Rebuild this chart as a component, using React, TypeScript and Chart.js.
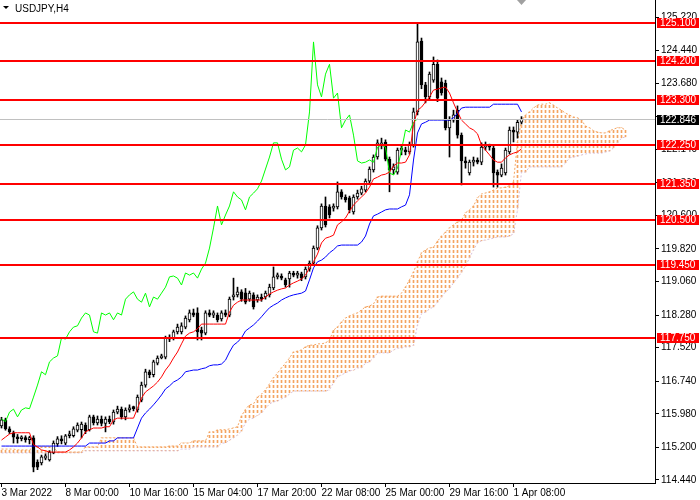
import { useEffect, useRef } from "react";
import { Chart, registerables } from "chart.js";

Chart.register(...registerables);

const symbolTitle = "USDJPY,H4";

const opens = [
  115.70,115.84,115.63,115.54,115.44,115.40,115.42,115.38,115.42,114.86,
  114.84,114.95,114.91,115.07,115.28,115.40,115.30,115.47,115.47,115.60,
  115.61,115.72,115.61,115.91,115.77,115.86,115.76,115.86,115.79,116.02,
  116.09,115.91,116.07,116.12,116.07,116.30,116.65,116.96,116.89,117.16,
  117.28,117.30,117.75,117.75,117.89,117.89,118.00,118.17,118.33,118.33,
  117.93,117.86,118.33,118.28,118.28,118.19,118.33,118.28,118.70,118.75,
  118.82,118.80,118.65,118.75,118.63,118.70,118.70,118.75,118.91,119.17,
  119.19,119.10,119.12,119.26,119.21,119.24,119.17,119.35,119.49,119.84,
  120.31,120.82,120.80,120.77,120.80,121.15,121.03,121.01,120.68,121.03,
  121.12,121.19,121.40,121.66,121.96,122.22,122.31,121.91,121.66,121.61,
  122.12,122.12,122.08,122.24,123.01,124.66,123.64,123.36,123.75,124.12,
  123.71,123.68,122.64,122.82,123.05,122.47,121.87,121.59,121.84,121.89,
  121.84,122.19,122.24,122.17,121.61,121.54,121.59,122.08,122.59,122.54,
  122.77,
];
const highs = [
  115.90,115.88,115.68,115.58,115.50,115.47,115.47,115.46,115.47,114.91,
  115.02,115.05,115.12,115.35,115.45,115.47,115.50,115.58,115.68,115.77,
  115.79,115.77,115.95,115.95,115.93,115.93,115.91,115.93,116.07,116.16,
  116.14,116.12,116.19,116.16,116.42,116.72,117.02,117.00,117.23,117.33,
  117.37,117.79,117.82,117.93,118.07,118.10,118.26,118.40,118.42,118.45,
  118.00,118.38,118.40,118.38,118.33,118.38,118.40,118.70,119.14,118.93,
  118.87,118.90,118.84,118.80,118.75,118.77,118.84,119.00,119.40,119.26,
  119.24,119.14,119.30,119.30,119.30,119.28,119.40,119.54,119.89,120.36,
  120.87,121.03,120.85,120.87,121.38,121.20,121.08,121.05,121.08,121.19,
  121.28,121.45,121.73,122.01,122.36,122.40,122.36,121.96,121.80,122.17,
  122.24,122.19,122.31,123.10,125.08,124.73,123.70,123.94,124.29,124.22,
  123.80,123.75,122.90,123.05,123.15,122.52,121.96,121.89,121.96,121.94,
  122.29,122.31,122.26,122.24,121.66,121.80,122.17,122.66,122.66,122.82,
  122.90,
];
const lows = [
  115.65,115.60,115.52,115.30,115.30,115.35,115.32,115.28,114.63,114.68,
  114.79,114.91,114.88,115.05,115.22,115.28,115.26,115.42,115.44,115.56,
  115.42,115.52,115.58,115.72,115.72,115.70,115.56,115.75,115.74,115.98,
  115.86,115.84,116.02,116.05,116.02,116.26,116.60,116.82,116.84,117.12,
  117.26,117.26,117.66,117.70,117.84,117.84,117.96,118.12,118.24,117.70,
  117.70,117.82,118.24,118.22,118.12,118.14,118.24,118.24,118.63,118.70,
  118.60,118.54,118.60,118.42,118.58,118.60,118.65,118.70,118.87,119.12,
  119.10,118.93,118.93,119.17,119.14,119.08,119.12,119.30,119.45,119.80,
  120.26,120.33,120.54,120.70,120.75,120.98,120.91,120.66,120.63,120.98,
  121.08,121.15,121.35,121.61,121.91,122.15,121.87,121.15,121.56,121.56,
  122.01,122.01,122.03,122.19,122.94,123.55,123.22,123.30,123.70,123.25,
  123.40,122.59,121.96,122.77,122.40,121.31,121.70,121.54,121.75,121.80,
  121.78,122.12,122.12,121.26,121.26,121.50,121.54,122.03,122.31,122.40,
  122.73,
];
const closes = [
  115.84,115.63,115.56,115.44,115.40,115.42,115.38,115.40,114.74,114.74,
  114.98,115.00,115.09,115.30,115.40,115.35,115.47,115.50,115.63,115.72,
  115.74,115.58,115.91,115.77,115.86,115.76,115.86,115.80,116.02,116.09,
  115.91,116.07,116.12,116.10,116.37,116.65,116.96,116.89,117.19,117.28,
  117.33,117.75,117.72,117.89,118.00,118.03,118.21,118.33,118.28,117.89,
  117.86,118.33,118.28,118.33,118.17,118.33,118.28,118.65,118.75,118.82,
  118.65,118.58,118.79,118.47,118.70,118.65,118.79,118.93,119.17,119.19,
  119.14,118.98,119.26,119.21,119.26,119.14,119.35,119.49,119.84,120.31,
  120.82,120.38,120.61,120.82,121.15,121.03,120.96,120.73,121.03,121.12,
  121.22,121.40,121.68,121.96,122.29,122.29,121.91,121.66,121.73,122.12,
  122.17,122.08,122.24,123.01,124.64,123.64,123.36,123.89,124.12,123.33,
  123.45,122.64,122.82,122.94,122.47,121.87,121.82,121.84,121.89,121.84,
  122.19,122.24,122.19,121.59,121.54,121.70,122.12,122.59,122.54,122.77,
  122.846,
];

const tenkan = [
  115.37,115.44,115.51,115.54,115.54,115.54,115.54,115.54,115.26,115.21,
  115.14,115.12,115.09,115.09,115.09,115.09,115.09,115.14,115.21,115.30,
  115.42,115.56,115.61,115.65,115.65,115.65,115.68,115.68,115.84,115.88,
  115.88,115.88,115.88,115.88,116.11,116.35,116.49,116.56,116.63,116.72,
  116.84,117.00,117.12,117.28,117.42,117.61,117.79,117.86,117.89,117.96,
  118.07,118.07,118.07,118.07,118.07,118.07,118.07,118.35,118.51,118.58,
  118.63,118.63,118.63,118.63,118.63,118.63,118.70,118.77,118.82,118.86,
  118.89,118.91,118.98,119.03,119.07,119.12,119.21,119.38,119.52,119.70,
  119.96,120.07,120.10,120.14,120.38,120.45,120.54,120.70,120.84,120.94,
  121.03,121.12,121.26,121.45,121.49,121.54,121.56,121.61,121.75,121.82,
  121.82,121.84,122.01,122.71,123.05,123.12,123.24,123.36,123.52,123.54,
  123.57,123.59,123.45,123.22,123.01,122.82,122.73,122.64,122.59,122.50,
  122.24,122.12,122.01,121.89,121.84,121.84,121.94,122.01,122.05,122.08,
  122.15,
];
const kijun = [
  115.23,115.23,115.23,115.23,115.23,115.23,115.23,115.23,115.23,115.23,
  115.23,115.23,115.23,115.23,115.23,115.23,115.23,115.23,115.23,115.23,
  115.23,115.23,115.30,115.30,115.30,115.30,115.30,115.35,115.35,115.42,
  115.42,115.42,115.42,115.42,115.65,115.88,116.00,116.09,116.19,116.30,
  116.42,116.56,116.63,116.72,116.77,116.84,116.96,116.98,117.00,117.00,
  117.03,117.05,117.10,117.12,117.12,117.14,117.23,117.42,117.58,117.65,
  117.75,117.91,117.98,118.05,118.14,118.24,118.35,118.45,118.51,118.56,
  118.63,118.68,118.72,118.75,118.77,118.79,118.84,119.10,119.38,119.52,
  119.56,119.63,119.73,119.80,119.89,119.91,119.91,119.91,119.91,119.91,
  119.98,120.12,120.40,120.59,120.63,120.68,120.73,120.75,120.75,120.75,
  120.80,120.84,121.08,121.89,122.52,122.73,122.77,122.82,122.82,122.82,
  122.82,122.82,122.82,122.87,122.98,123.10,123.12,123.12,123.12,123.12,
  123.12,123.12,123.12,123.19,123.19,123.19,123.19,123.19,123.19,123.19,
  123.01,
];
const spanA = [
  115.16,115.16,115.16,115.16,115.14,115.14,115.14,115.14,115.21,115.21,
  115.21,115.21,115.21,115.21,115.09,115.09,115.09,115.09,115.09,115.09,
  115.09,115.21,115.21,115.21,115.21,115.42,115.42,115.42,115.42,115.42,
  115.42,115.42,115.42,115.42,115.21,115.21,115.21,115.21,115.21,115.21,
  115.21,115.21,115.23,115.23,115.23,115.30,115.30,115.30,115.35,115.35,
  115.35,115.35,115.56,115.56,115.61,115.61,115.61,115.63,115.65,115.68,
  115.93,116.09,116.19,116.21,116.37,116.44,116.54,116.68,116.82,116.93,
  117.05,117.16,117.28,117.42,117.44,117.47,117.54,117.58,117.58,117.61,
  117.61,117.63,117.70,117.93,118.00,118.12,118.21,118.26,118.30,118.33,
  118.40,118.47,118.49,118.54,118.70,118.72,118.72,118.72,118.72,118.72,
  118.79,118.93,119.10,119.28,119.52,119.73,119.80,119.84,119.86,120.00,
  120.12,120.21,120.31,120.38,120.45,120.49,120.66,120.73,120.82,121.01,
  121.10,121.12,121.15,121.19,121.24,121.24,121.26,121.29,121.38,122.31,
  122.80,122.94,123.01,123.10,123.17,123.19,123.19,123.22,123.17,123.10,
  123.05,122.98,122.94,122.89,122.87,122.82,122.68,122.64,122.57,122.54,
  122.52,122.52,122.57,122.61,122.64,122.64,122.59,
];
const spanB = [
  115.07,115.07,115.07,115.07,115.07,115.07,115.07,115.07,115.07,115.07,
  115.07,115.07,115.07,115.07,115.07,115.07,115.07,115.07,115.07,115.07,
  115.07,115.12,115.12,115.12,115.12,115.12,115.12,115.12,115.12,115.12,
  115.12,115.12,115.12,115.12,115.12,115.12,115.12,115.12,115.12,115.12,
  115.12,115.12,115.12,115.12,115.12,115.16,115.16,115.16,115.21,115.21,
  115.21,115.21,115.21,115.21,115.21,115.30,115.30,115.37,115.42,115.49,
  115.58,115.77,115.86,115.88,115.95,116.00,116.11,116.21,116.26,116.28,
  116.33,116.37,116.44,116.51,116.51,116.51,116.51,116.51,116.51,116.51,
  116.51,116.51,116.54,116.70,116.84,116.89,116.93,116.98,117.00,117.05,
  117.05,117.16,117.19,117.28,117.40,117.40,117.40,117.40,117.47,117.51,
  117.51,117.54,117.54,117.58,118.05,118.31,118.35,118.42,118.47,118.58,
  118.70,118.82,118.89,119.03,119.14,119.28,119.42,119.61,119.80,119.96,
  120.01,120.03,120.05,120.07,120.10,120.10,120.10,120.12,120.17,120.73,
  121.61,121.61,121.73,121.73,121.73,121.73,121.73,121.73,121.73,121.73,
  121.73,121.82,121.94,121.96,121.98,122.01,122.03,122.05,122.05,122.05,
  122.05,122.08,122.10,122.17,122.29,122.40,122.43,
];
const chikouShift = 26;

const levels = [125.1, 124.2, 123.3, 122.25, 121.35, 120.5, 119.45, 117.75];
const lastPrice = 122.846;

const yTicks = [
  114.44, 115.2, 115.98, 116.74, 117.52, 118.28, 119.06, 119.82,
  120.6, 121.36, 122.14, 122.9, 123.68, 124.44, 125.22,
];
const xTickIndex = [0, 16, 32, 48, 64, 80, 96, 112, 128];
const xTickLabels = [
  "3 Mar 2022", "8 Mar 00:00", "10 Mar 16:00", "15 Mar 04:00", "17 Mar 20:00",
  "22 Mar 08:00", "25 Mar 00:00", "29 Mar 16:00", "1 Apr 08:00",
];

const FONT = "'Liberation Sans', Arial, sans-serif";
const FONT_SIZE = 10;

function hatch(color: string): CanvasPattern {
  const c = document.createElement("canvas");
  c.width = 1;
  c.height = 5;
  const g = c.getContext("2d")!;
  g.fillStyle = color;
  g.fillRect(0, 0, 1, 3);
  return g.createPattern(c, "repeat")!;
}

export default function App() {
  const ref = useRef<HTMLCanvasElement>(null);

  useEffect(() => {
    document.body.style.margin = "0";
    const canvas = ref.current!;
    const up = hatch("#F4A460");
    const down = hatch("#D8BFD8");

    const bodies = closes.map((c, i) => ({ x: i, y: [opens[i], c] }));
    const wicks = closes.map((_c, i) => ({ x: i, y: [lows[i], highs[i]] }));
    const bodyColors = closes.map((c, i) => (c > opens[i] ? "#FFFFFF" : "#000000"));
    const cloud = spanA.map((a, i) => ({ x: i, y: [a, spanB[i]] }));
    const cloudColors = spanA.map((a, i) => (a >= spanB[i] ? up : down));
    const pts = (arr: number[]) => arr.map((v, i) => ({ x: i, y: v }));
    const chikou = closes.slice(chikouShift).map((v, i) => ({ x: i, y: v }));

    const lineBase = {
      type: "line" as const,
      borderWidth: 1,
      pointRadius: 0,
      tension: 0,
      fill: false,
    };

    const overlay = {
      id: "overlay",
      afterDatasetsDraw(chart: any) {
        const { ctx, chartArea, scales } = chart;
        const y = scales.y;
        ctx.save();
        const py = Math.round(y.getPixelForValue(lastPrice)) + 0.5;
        ctx.strokeStyle = "#C0C0C0";
        ctx.lineWidth = 1;
        ctx.beginPath();
        ctx.moveTo(chartArea.left, py);
        ctx.lineTo(chartArea.right, py);
        ctx.stroke();
        ctx.strokeStyle = "#FF0000";
        ctx.lineWidth = 2;
        levels.forEach((v) => {
          const yy = Math.floor(y.getPixelForValue(v)) + 1;
          ctx.beginPath();
          ctx.moveTo(chartArea.left, yy);
          ctx.lineTo(chartArea.right, yy);
          ctx.stroke();
        });
        ctx.restore();
      },
      afterDraw(chart: any) {
        const { ctx, chartArea, scales } = chart;
        const y = scales.y;
        ctx.save();
        ctx.font = `${FONT_SIZE}px ${FONT}`;
        ctx.textAlign = "left";
        ctx.textBaseline = "middle";
        const bx = chartArea.right + 2;
        const bw = 42;
        levels.forEach((v) => {
          const yy = Math.floor(y.getPixelForValue(v));
          ctx.fillStyle = "#FF0000";
          ctx.fillRect(bx, yy - 4, bw, 10);
          ctx.fillStyle = "#FFFFFF";
          ctx.fillText(v.toFixed(3), chartArea.right + 5, yy + 1.5);
        });
        const py = Math.round(y.getPixelForValue(lastPrice));
        ctx.fillStyle = "#000000";
        ctx.fillRect(bx, py - 4, bw, 10);
        ctx.fillStyle = "#FFFFFF";
        ctx.fillText(lastPrice.toFixed(3), chartArea.right + 5, py + 1.5);

        // title
        ctx.fillStyle = "#000000";
        ctx.beginPath();
        ctx.moveTo(3, 6);
        ctx.lineTo(9, 6);
        ctx.lineTo(6, 9);
        ctx.closePath();
        ctx.fill();
        ctx.textBaseline = "alphabetic";
        ctx.fillText(symbolTitle, 15, 12);

        // chart shift marker
        ctx.fillStyle = "#A0A0A0";
        ctx.beginPath();
        ctx.moveTo(517, 0);
        ctx.lineTo(526, 0);
        ctx.lineTo(521.5, 5);
        ctx.closePath();
        ctx.fill();
        ctx.restore();
      },
    };

    const chart = new Chart(canvas, {
      type: "bar",
      data: {
        datasets: [
          {
            type: "bar",
            data: cloud as any,
            backgroundColor: cloudColors as any,
            barThickness: 1,
            grouped: false,
            borderWidth: 0,
            order: 10,
          },
          { ...lineBase, data: pts(spanA), borderColor: "#F4A460", borderDash: [2, 2], order: 9 } as any,
          { ...lineBase, data: pts(spanB), borderColor: "#D8BFD8", borderDash: [2, 2], order: 9 } as any,
          {
            type: "bar",
            data: wicks as any,
            backgroundColor: "#000000",
            barThickness: 1,
            grouped: false,
            borderWidth: 0,
            order: 8,
          },
          {
            type: "bar",
            data: bodies as any,
            backgroundColor: bodyColors,
            borderColor: "#000000",
            borderWidth: 1,
            borderSkipped: false,
            barThickness: 3,
            minBarLength: 2,
            grouped: false,
            order: 7,
          },
          { ...lineBase, data: chikou, borderColor: "#00FF00", order: 6 } as any,
          { ...lineBase, data: pts(kijun), borderColor: "#0000FF", order: 5 } as any,
          { ...lineBase, data: pts(tenkan), borderColor: "#FF0000", order: 4 } as any,
        ],
      },
      options: {
        responsive: false,
        maintainAspectRatio: false,
        animation: false,
        events: [],
        layout: { padding: 0 },
        plugins: { legend: { display: false }, tooltip: { enabled: false } },
        scales: {
          x: {
            type: "linear",
            position: "bottom",
            min: -0.375,
            max: 163.375,
            offset: false,
            bounds: "data",
            grid: { display: true, drawOnChartArea: false, drawTicks: true, tickLength: 4, color: "#000000", offset: false },
            border: { display: true, color: "#000000", width: 1 },
            afterBuildTicks: (scale: any) => {
              scale.ticks = xTickIndex.map((v) => ({ value: v }));
            },
            afterFit: (scale: any) => {
              scale.height = 17;
              scale.paddingLeft = 0;
              scale.paddingRight = 0;
            },
            ticks: {
              autoSkip: false,
              maxRotation: 0,
              minRotation: 0,
              align: "start",
              padding: 0,
              color: "#000000",
              font: { family: FONT, size: FONT_SIZE },
              callback: (v: any) => {
                const k = xTickIndex.indexOf(Number(v));
                return k >= 0 ? xTickLabels[k] : "";
              },
            },
          },
          y: {
            type: "linear",
            position: "right",
            min: 114.37,
            max: 125.616,
            bounds: "data",
            grid: { display: true, drawOnChartArea: false, drawTicks: true, tickLength: 4, color: "#000000" },
            border: { display: true, color: "#000000", width: 1 },
            afterBuildTicks: (scale: any) => {
              scale.ticks = yTicks.map((v) => ({ value: v }));
            },
            afterFit: (scale: any) => {
              scale.width = 45;
              scale.paddingTop = 0;
              scale.paddingBottom = 0;
            },
            ticks: {
              autoSkip: false,
              padding: 2,
              color: "#000000",
              font: { family: FONT, size: FONT_SIZE },
              callback: (v: any) =>
                Math.abs(Number(v) - lastPrice) < 0.1 ? "" : Number(v).toFixed(3),
            },
          },
        },
      },
      plugins: [overlay],
    } as any);

    return () => chart.destroy();
  }, []);

  return (
    <div style={{ width: 700, height: 500, background: "#FFFFFF" }}>
      <canvas ref={ref} width={700} height={500} style={{ display: "block" }} />
    </div>
  );
}
